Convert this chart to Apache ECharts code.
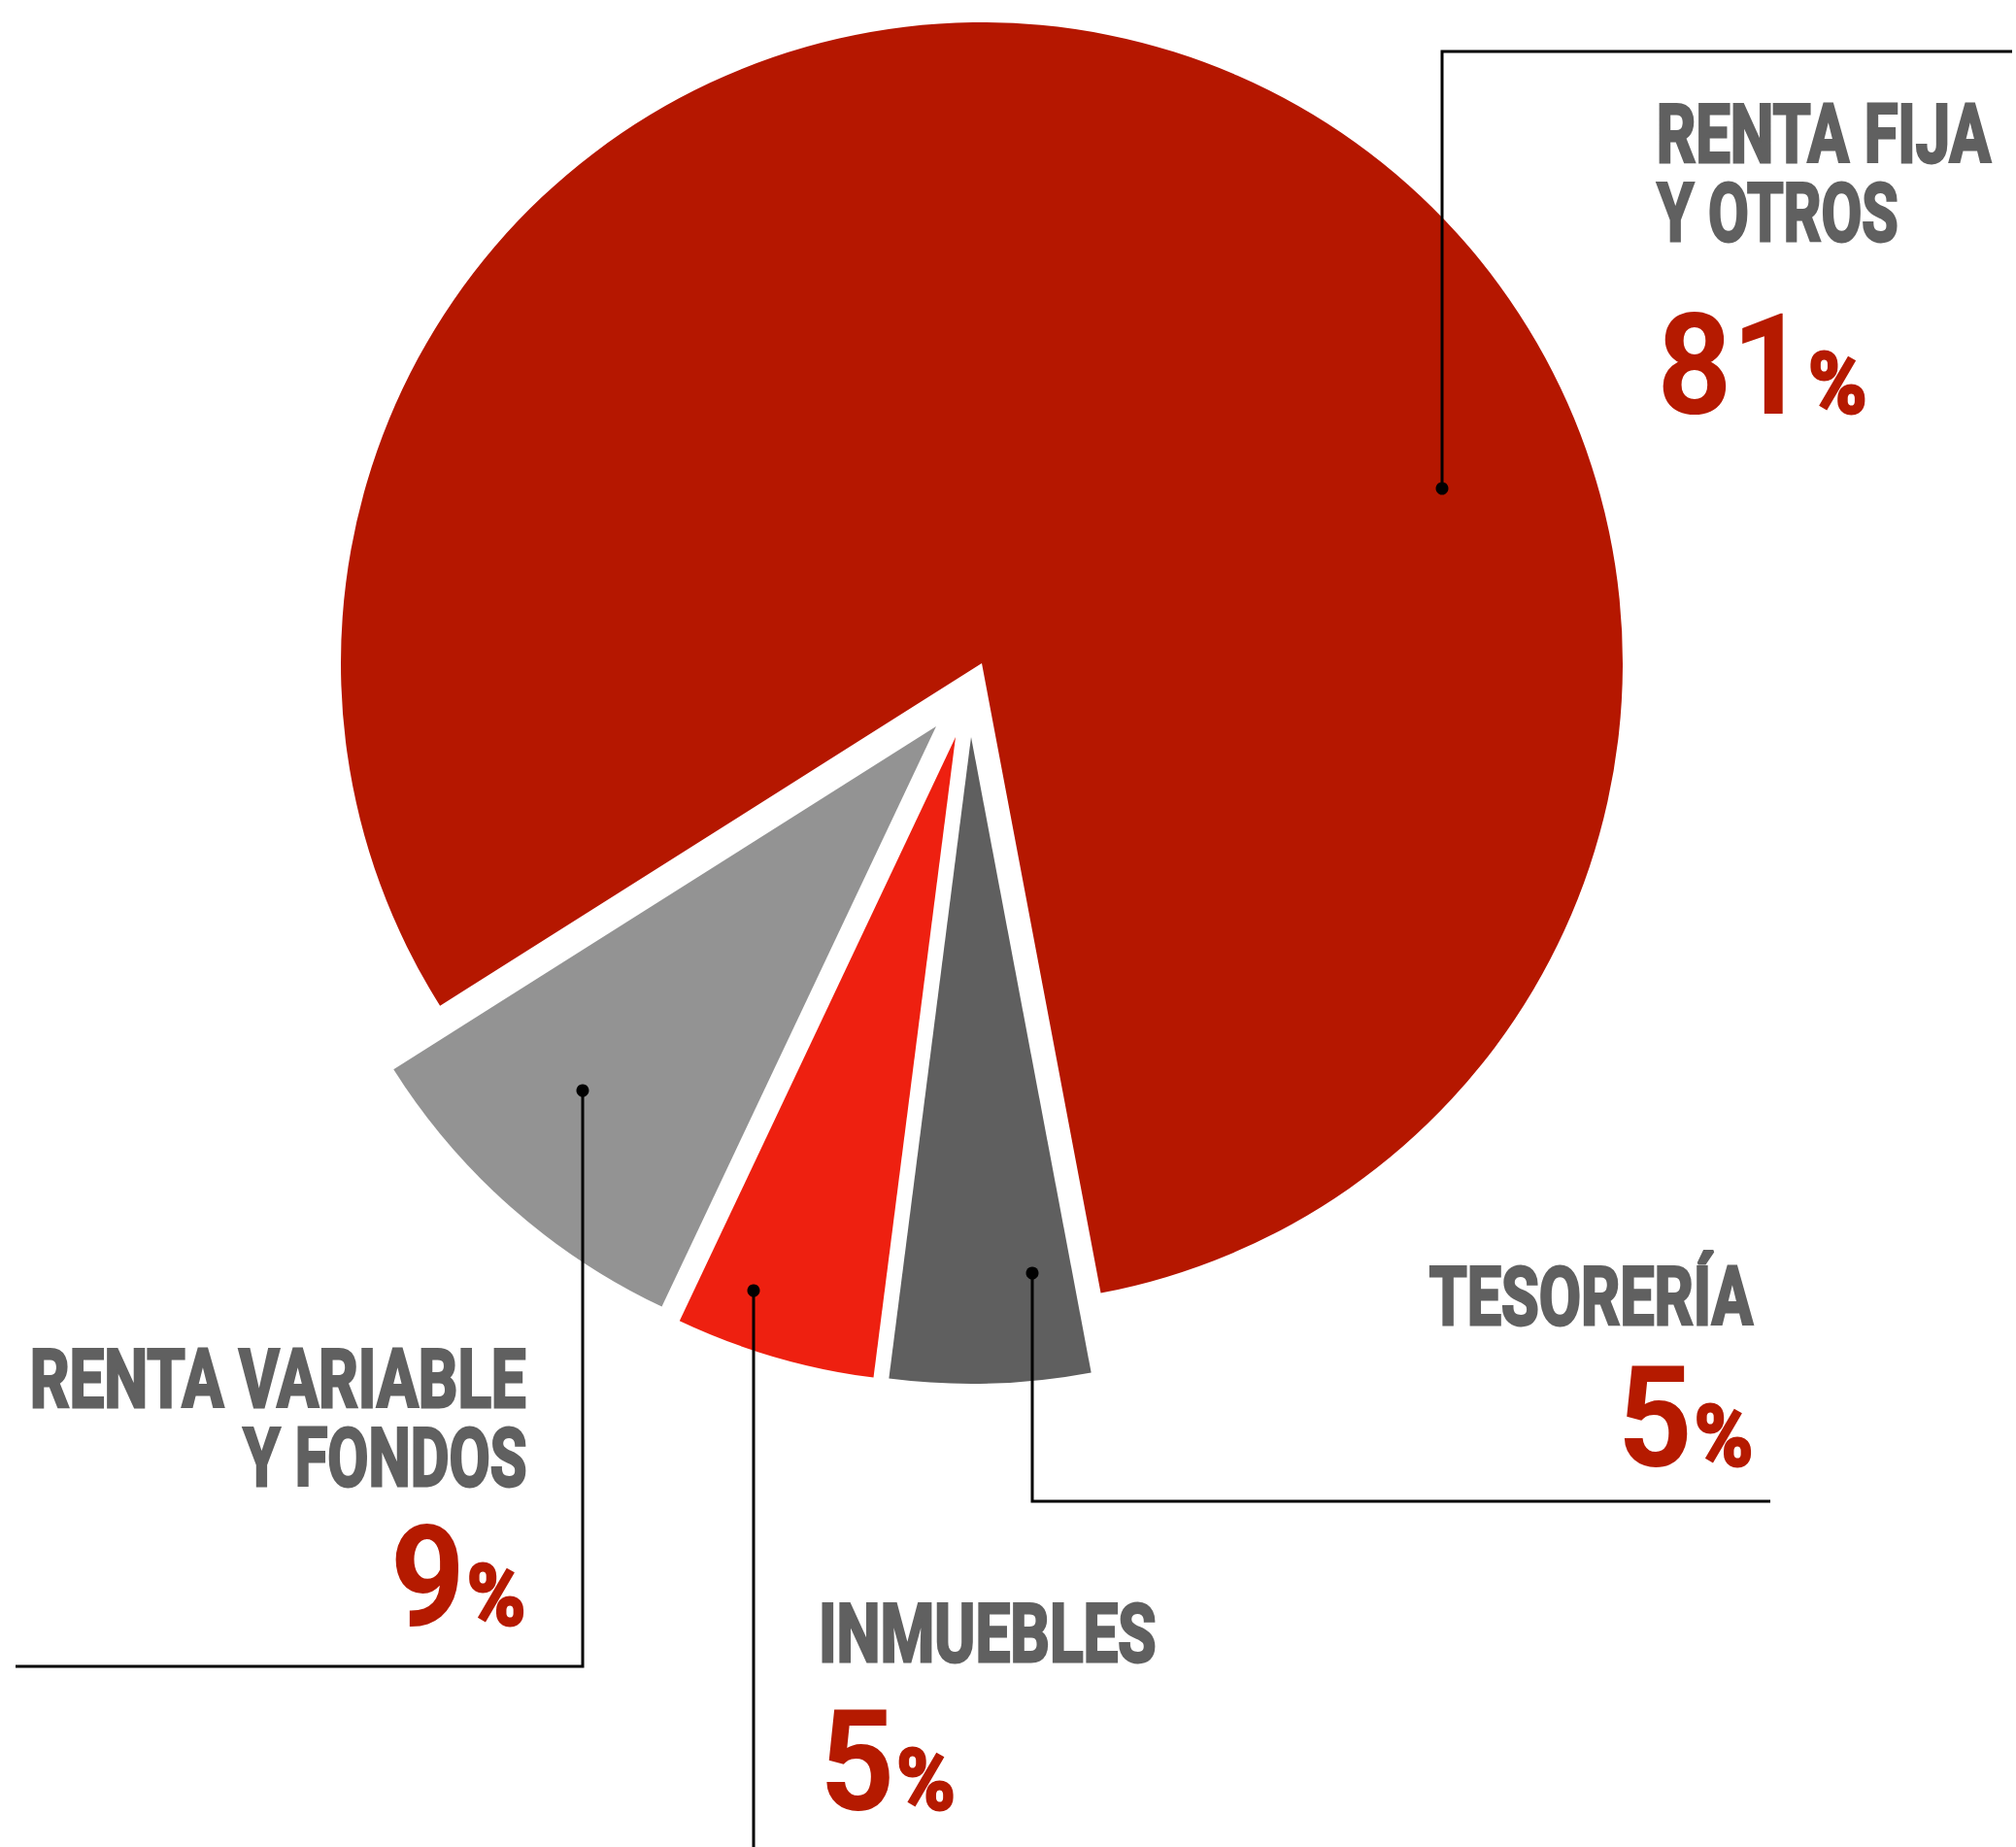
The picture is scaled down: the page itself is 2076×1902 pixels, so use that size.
<!DOCTYPE html>
<html>
<head>
<meta charset="utf-8">
<title>Distribución de la cartera</title>
<script src="https://cdn.jsdelivr.net/npm/echarts@6/dist/echarts.min.js"></script>
<style>
  html, body { margin: 0; padding: 0; background: #fff; }
  #chart { width: 2076px; height: 1902px; }
</style>
</head>
<body>
<div id="chart"></div>
<script>
// ---- data ----
const categories = ['RENTA FIJA\nY OTROS', 'TESORERÍA', 'INMUEBLES', 'RENTA VARIABLE\nY FONDOS'];
const values = [81, 5, 5, 9];

// ---- styles / layout ----
const colors = ['#b51700', '#5f5f5f', '#ee2010', '#939393'];
const nameColor = '#606060';
const pctColor = '#b51a00';
// every slice is pulled out by hand in the original, so each one gets its own pie
const sliceCenters = [[1011, 683], [1000, 759], [984, 759], [964, 748]];
const sliceRadii = [660, 666, 665, 661];
const startAngle = 212.3;

// annotation layout: name lines [inkLeft, inkRight, bottom], number anchor, dot, leader path
const labelLayout = [
  { side: 'left',  lines: [[1708, 2052, 169], [1705, 1954, 250]], num: [1712, 427], dot: [1485, 503], path: [[1485, 53], [2072, 53]] },
  { side: 'right', lines: [[1471, 1807, 1366]], num: [1804, 1511], dot: [1063, 1311], path: [[1063, 1546], [1823, 1546]] },
  { side: 'left',  lines: [[846, 1190, 1713]], num: [851, 1865], dot: [776, 1329], path: [[776, 1902]] },
  { side: 'right', lines: [[33, 542, 1450], [249, 542, 1532]], num: [540, 1675], dot: [600, 1123], path: [[600, 1716], [16, 1716]] }
];

const FONT = 'Roboto';
const NAME_SIZE = 84;
const NAME_STROKE = 3;
const NUM_SIZE = 144;
const PCT_SIZE = 88;
const PCT_STROKE = 3;
const PCT_GAP = 2;
// svg 'central' baseline sits lower than canvas 'middle', which is what we measure with
const SVG_SHIFT = 0.09;

// measure glyph ink so the text can be fitted to the reference boxes
const mctx = document.createElement('canvas').getContext('2d');
function ink(text, size) {
  mctx.font = 'bold ' + size + 'px ' + FONT;
  mctx.textBaseline = 'middle';
  const m = mctx.measureText(text);
  return { l: -m.actualBoundingBoxLeft, r: m.actualBoundingBoxRight, b: m.actualBoundingBoxDescent, adv: m.width };
}
const numScale = 66 / (ink('8', NUM_SIZE).r - ink('8', NUM_SIZE).l);

function textEl(text, size, color, penX, bottom, sx, stroke) {
  const k = ink(text, size);
  const style = { text: text, x: 0, y: 0, fontSize: size, fontWeight: 'bold', fontFamily: FONT,
                  fill: color, align: 'left', verticalAlign: 'middle' };
  if (stroke) {
    style.stroke = color;
    style.lineWidth = stroke;
    style.lineJoin = 'miter';
  }
  return {
    type: 'text', x: penX, y: bottom - k.b - (stroke || 0) / 2 - SVG_SHIFT * size,
    scaleX: sx, silent: true, z: 100,
    style: style
  };
}

const graphics = [];
categories.forEach(function (cat, i) {
  const L = labelLayout[i];
  // leader line + dot
  graphics.push({
    type: 'polyline', silent: true, z: 100,
    shape: { points: [L.dot].concat(L.path) },
    style: { stroke: '#000', lineWidth: 3, fill: null }
  });
  graphics.push({ type: 'circle', silent: true, z: 101, shape: { cx: L.dot[0], cy: L.dot[1], r: 6.5 }, style: { fill: '#000' } });
  // name
  cat.split('\n').forEach(function (line, j) {
    const box = L.lines[j];
    const k = ink(line, NAME_SIZE);
    const w = box[1] - box[0] - NAME_STROKE;
    const sx = w / (k.r - k.l);
    graphics.push(textEl(line, NAME_SIZE, nameColor, box[0] + NAME_STROKE / 2 - k.l * sx, box[2], sx, NAME_STROKE));
  });
  // value + %
  const n = String(values[i]);
  const kn = ink(n, NUM_SIZE), kp = ink('%', PCT_SIZE);
  let nx, px;
  if (L.side === 'left') {
    nx = L.num[0] - kn.l * numScale;
    px = nx + kn.adv * numScale + PCT_GAP;
  } else {
    px = L.num[0] - PCT_STROKE / 2 - kp.r * numScale;
    nx = px - PCT_GAP - kn.adv * numScale;
  }
  graphics.push(textEl(n, NUM_SIZE, pctColor, nx, L.num[1], numScale));
  graphics.push(textEl('%', PCT_SIZE, pctColor, px, L.num[1], numScale, PCT_STROKE));
});

const series = values.map(function (v, i) {
  return {
    type: 'pie',
    center: sliceCenters[i],
    radius: [0, sliceRadii[i]],
    startAngle: startAngle,
    clockwise: true,
    silent: true,
    z: 2,
    label: { show: false },
    labelLine: { show: false },
    emphasis: { disabled: true },
    data: values.map(function (val, j) {
      return {
        value: val,
        name: categories[j],
        itemStyle: { color: j === i ? colors[j] : 'rgba(0,0,0,0)', borderWidth: 0 }
      };
    })
  };
});

const chart = echarts.init(document.getElementById('chart'), null, { renderer: 'svg' });
chart.setOption({
  backgroundColor: '#fff',
  animation: false,
  series: series,
  graphic: { elements: graphics }
});
</script>
</body>
</html>
